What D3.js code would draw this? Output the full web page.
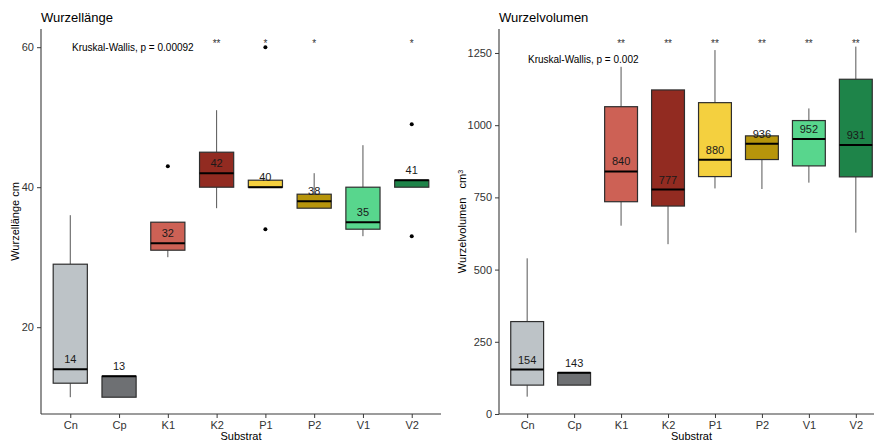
<!DOCTYPE html>
<html>
<head>
<meta charset="utf-8">
<script src="https://cdn.jsdelivr.net/npm/d3@7"></script>
<style>
    body { margin: 0; background: white; }
    svg { font-family: "Liberation Sans", Arial, sans-serif; }
</style>
</head>
<body>
<div id="chart"></div>
<script>
const substrate = ["Cn", "Cp", "K1", "K2", "P1", "P2", "V1", "V2"];
const boxColors = ["#bdc3c7", "#6e7073", "#cd6155", "#922b21", "#f4d03f", "#b7950b", "#58d68d", "#1e8449"];

// Wurzellaenge (cm): whisker low, q1, median, q3, whisker high
const laengeLow = [10, 10, 30, 37, 40, 37, 33, 40];
const laengeQ1 = [12, 10, 31, 40, 40, 37, 34, 40];
const laengeMedian = [14, 13, 32, 42, 40, 38, 35, 41];
const laengeQ3 = [29, 13, 35, 45, 41, 39, 40, 41];
const laengeHigh = [36, 13, 35, 51, 41, 42, 46, 41];
const laengeOutliers = [[], [], [43], [], [60, 34], [], [], [49, 33]];
const laengeStars = ["", "", "", "**", "*", "*", "", "*"];
const laengeTicks = [20, 40, 60];

// Wurzelvolumen (cm3)
const volLow = [60, 100, 652, 588, 781, 779, 801, 628];
const volQ1 = [100, 100, 735, 720, 822, 881, 859, 821];
const volMedian = [154, 143, 840, 777, 880, 936, 952, 931];
const volQ3 = [320, 143, 1064, 1122, 1078, 963, 1016, 1159];
const volHigh = [539, 143, 1202, 1122, 1260, 963, 1058, 1272];
const volOutliers = [[], [], [], [], [], [], [], []];
const volStars = ["", "", "**", "**", "**", "**", "**", "**"];
const volTicks = [0, 250, 500, 750, 1000, 1250];

class BoxPanel {
    constructor(svg, opts) {
        this.svg = svg;
        this.opts = opts;
        this.initVis();
    }

    initVis() {
        let vis = this;
        let o = vis.opts;

        vis.g = vis.svg.append("g");

        // discrete axis with 0.6 expansion on each side like ggplot
        vis.x = d3.scalePoint()
            .domain(substrate)
            .range([o.left, o.right])
            .padding(0.6);
        vis.step = vis.x.step();

        vis.y = d3.scaleLinear()
            .domain(o.yDomain)
            .range([o.bottom, o.top]);

        vis.wrangleData();
    }

    wrangleData() {
        let vis = this;
        let o = vis.opts;
        vis.displayData = substrate.map((s, i) => {
            return {
                name: s, color: boxColors[i],
                low: o.low[i], q1: o.q1[i], med: o.median[i], q3: o.q3[i], high: o.high[i],
                out: o.outliers[i], star: o.stars[i]
            };
        });
        vis.updateVis();
    }

    updateVis() {
        let vis = this;
        let o = vis.opts;
        let bw = vis.step * 0.7;

        // axes
        let yAxis = d3.axisLeft(vis.y).tickValues(o.ticks).tickFormat(d3.format("d"))
            .tickSize(4).tickPadding(3);
        let yg = vis.g.append("g")
            .attr("transform", "translate(" + o.left + ",0)")
            .call(yAxis);
        yg.select(".domain").attr("d", "M0," + o.top + "V" + o.bottom);

        let xAxis = d3.axisBottom(vis.x).tickSize(4).tickPadding(3);
        let xg = vis.g.append("g")
            .attr("transform", "translate(0," + o.bottom + ")")
            .call(xAxis);
        xg.select(".domain").attr("d", "M" + o.left + ",0H" + o.right);

        vis.g.selectAll(".domain").attr("stroke", "#3a3a3a").attr("stroke-width", 1.1);
        vis.g.selectAll(".tick line").attr("stroke", "#3a3a3a");
        vis.g.selectAll(".tick text").attr("fill", "#333").style("font-size", "11px");

        let boxes = vis.g.selectAll(".box")
            .data(vis.displayData)
            .enter().append("g")
            .attr("class", "box");

        // whiskers
        boxes.append("line")
            .attr("x1", d => vis.x(d.name)).attr("x2", d => vis.x(d.name))
            .attr("y1", d => vis.y(d.high)).attr("y2", d => vis.y(d.q3))
            .attr("stroke", "#555").attr("stroke-width", 1);
        boxes.append("line")
            .attr("x1", d => vis.x(d.name)).attr("x2", d => vis.x(d.name))
            .attr("y1", d => vis.y(d.q1)).attr("y2", d => vis.y(d.low))
            .attr("stroke", "#555").attr("stroke-width", 1);

        boxes.append("rect")
            .attr("x", d => vis.x(d.name) - bw / 2)
            .attr("width", bw)
            .attr("y", d => vis.y(d.q3))
            .attr("height", d => Math.max(vis.y(d.q1) - vis.y(d.q3), 0.5))
            .attr("fill", d => d.color)
            .attr("stroke", "#2e2e2e")
            .attr("stroke-width", 1.2);

        boxes.append("line")
            .attr("x1", d => vis.x(d.name) - bw / 2).attr("x2", d => vis.x(d.name) + bw / 2)
            .attr("y1", d => vis.y(d.med)).attr("y2", d => vis.y(d.med))
            .attr("stroke", "black").attr("stroke-width", 2);

        // outliers
        boxes.selectAll("circle")
            .data(d => d.out.map(v => ({name: d.name, v: v})))
            .enter().append("circle")
            .attr("cx", d => vis.x(d.name))
            .attr("cy", d => vis.y(d.v))
            .attr("r", 2)
            .attr("fill", "black");

        // median labels
        boxes.append("text")
            .text(d => d.med)
            .attr("x", d => vis.x(d.name))
            .attr("y", d => vis.y(d.med) - 6)
            .attr("text-anchor", "middle")
            .attr("fill", "#1a1a1a")
            .style("font-size", "11px");

        // significance stars
        boxes.append("text")
            .text(d => d.star)
            .attr("x", d => vis.x(d.name))
            .attr("y", 47)
            .attr("text-anchor", "middle")
            .attr("fill", "#333")
            .style("font-size", "10px");

        vis.g.append("text")
            .text(o.kruskal)
            .attr("x", o.kruskalX)
            .attr("y", o.kruskalY)
            .attr("fill", "black")
            .style("font-size", "10px");

        vis.g.append("text")
            .text(o.title)
            .attr("x", o.left)
            .attr("y", 22)
            .attr("fill", "black")
            .style("font-size", "13px");

        vis.g.append("text")
            .text("Substrat")
            .attr("x", (o.left + o.fullRight) / 2)
            .attr("y", 440)
            .attr("text-anchor", "middle")
            .attr("fill", "black")
            .style("font-size", "11px");

        let yt = vis.g.append("text")
            .attr("transform", "translate(" + o.yTitleX + "," + ((o.top + o.bottom) / 2) + ") rotate(-90)")
            .attr("text-anchor", "middle")
            .attr("fill", "black")
            .style("white-space", "pre")
            .style("font-size", "11px");
        yt.append("tspan").text(o.yTitle);
        if (o.ySup) {
            yt.append("tspan").text(o.ySup)
                .attr("baseline-shift", "super")
                .style("font-size", "7px");
        }
    }
}

let svg = d3.select("#chart").append("svg")
    .attr("width", 874)
    .attr("height", 441);

new BoxPanel(svg, {
    left: 41, right: 441, fullRight: 441, top: 29, bottom: 414,
    yDomain: [7.6, 62.6], ticks: laengeTicks,
    low: laengeLow, q1: laengeQ1, median: laengeMedian, q3: laengeQ3, high: laengeHigh,
    outliers: laengeOutliers, stars: laengeStars,
    title: "Wurzellänge", yTitle: "Wurzellänge cm", yTitleX: 19,
    kruskal: "Kruskal-Wallis, p = 0.00092", kruskalX: 72, kruskalY: 51
});

new BoxPanel(svg, {
    left: 499, right: 884, fullRight: 884, top: 29, bottom: 414,
    yDomain: [0, 1333], ticks: volTicks,
    low: volLow, q1: volQ1, median: volMedian, q3: volQ3, high: volHigh,
    outliers: volOutliers, stars: volStars,
    title: "Wurzelvolumen", yTitle: "Wurzelvolumen   cm", ySup: "3", yTitleX: 466,
    kruskal: "Kruskal-Wallis, p = 0.002", kruskalX: 528, kruskalY: 63
});
</script>
</body>
</html>
